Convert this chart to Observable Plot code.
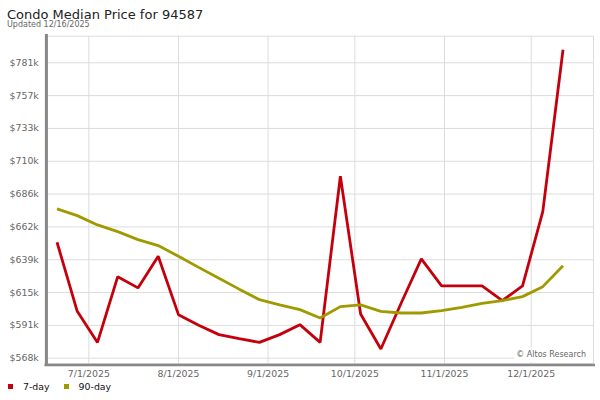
<!DOCTYPE html>
<html>
<head>
<meta charset="utf-8">
<script src="https://cdn.jsdelivr.net/npm/d3@7"></script>
<script src="https://cdn.jsdelivr.net/npm/@observablehq/plot@0.6"></script>
<style>
  html, body { margin: 0; padding: 0; background: #fff; width: 600px; height: 400px; overflow: hidden; position: relative; font-family: "DejaVu Sans", sans-serif; }
  .abs { position: absolute; }
  #title { left: 7px; top: 8.5px; font-size: 13px; line-height: 12px; color: #222; white-space: nowrap; }
  #subtitle { left: 7px; top: 21px; font-size: 8px; line-height: 7px; color: #666; white-space: nowrap; }
  #chart { left: 0; top: 32px; }
  #legend { left: 8px; top: 380px; height: 13px; display: flex; align-items: center; font-size: 9.4px; color: #111; }
  #legend .sw { width: 5px; height: 5px; margin-right: 10px; }
  #legend .item { display: flex; align-items: center; margin-right: 14px; }
  #credit { left: 514px; top: 347px; width: 72px; height: 15px; padding-right: 7px; background: #fff; text-align: right; font-size: 8px; line-height: 15px; color: #666; white-space: nowrap; }
</style>
</head>
<body>
<div id="title" class="abs">Condo Median Price for 94587</div>
<div id="subtitle" class="abs">Updated 12/16/2025</div>
<div id="chart" class="abs"></div>
<div id="credit" class="abs">© Altos Research</div>
<div id="legend" class="abs"></div>
<script>
// ---- data (values in $k) ----
const dates = ["2025-06-20","2025-06-27","2025-07-04","2025-07-11","2025-07-18","2025-07-25",
  "2025-08-01","2025-08-08","2025-08-15","2025-08-22","2025-08-29","2025-09-05","2025-09-12",
  "2025-09-19","2025-09-26","2025-10-03","2025-10-10","2025-10-17","2025-10-24","2025-10-31",
  "2025-11-07","2025-11-14","2025-11-21","2025-11-28","2025-12-05","2025-12-12"];
const sevenDay = [651.6, 601.8, 579.4, 626.8, 618.7, 641.5, 599.4, 591.7, 585.0, 582.1, 579.4, 585.0, 592.2,
  579.4, 699.2, 599.9, 574.6, 607.6, 639.6, 620.1, 620.1, 620.1, 609.5, 620.1, 673.7, 790.4];
const ninetyDay = [675.7, 670.8, 664.1, 659.3, 653.5, 649.2, 641.5, 633.5, 625.6, 617.8, 610.2, 606.5, 603.0,
  597.0, 605.2, 606.4, 601.8, 600.6, 600.6, 602.3, 604.7, 607.6, 609.5, 612.4, 619.6, 634.7];
const seriesNames = ["7-day", "90-day"];
const seriesColors = ["#c4000c", "#a09a00"];
const yTickValues = [568000, 591667, 615333, 639000, 662667, 686333, 710000, 733667, 757333, 781000];
const yTickLabels = ["$568k","$591k","$615k","$639k","$662k","$686k","$710k","$733k","$757k","$781k"];
const xTickDates = ["2025-07-01","2025-08-01","2025-09-01","2025-10-01","2025-11-01","2025-12-01"];
const xTickLabels = ["7/1/2025","8/1/2025","9/1/2025","10/1/2025","11/1/2025","12/1/2025"];
const xDomain = [new Date(Date.UTC(2025, 5, 16, 17)), new Date(Date.UTC(2025, 11, 22, 13))];
const yDomain = [564180, 800180];

// ---- build ----
const rows = [];
[sevenDay, ninetyDay].forEach((vals, s) => {
  dates.forEach((d, i) => rows.push({date: new Date(d), series: seriesNames[s], value: vals[i] * 1000}));
});
const xTicks = xTickDates.map(d => new Date(d));

const chart = Plot.plot({
  width: 600,
  height: 348,
  marginTop: 3.7,
  marginBottom: 17,
  marginLeft: 47,
  marginRight: 7,
  style: {fontFamily: "DejaVu Sans, sans-serif", fontSize: "9.4px", color: "#666", background: "transparent"},
  x: {type: "utc", domain: xDomain, ticks: xTicks, tickSize: 0, tickPadding: 7, label: null,
      tickFormat: d => xTickLabels[xTicks.findIndex(t => +t === +d)]},
  y: {domain: yDomain, ticks: yTickValues, tickSize: 0, tickPadding: 8.7, label: null,
      tickFormat: d => yTickLabels[yTickValues.indexOf(d)]},
  color: {domain: seriesNames, range: seriesColors},
  marks: [
    Plot.ruleX(xTicks, {stroke: "#dcdcdc", strokeWidth: 1}),
    Plot.ruleY(yTickValues, {stroke: "#dcdcdc", strokeWidth: 1}),
    Plot.frame({stroke: "#dcdcdc"}),
    Plot.line(rows, {x: "date", y: "value", z: "series", stroke: "series", strokeWidth: 2.8,
      strokeLinejoin: "miter", strokeLinecap: "butt"}),
    Plot.ruleX([xDomain[0]], {stroke: "#888", strokeWidth: 3, dx: -1.1, insetTop: -1.7, insetBottom: -2.7}),
    Plot.ruleY([yDomain[0]], {stroke: "#888", strokeWidth: 2.5, dy: 1.5, insetLeft: -2.5, insetRight: -2})
  ]
});
document.getElementById("chart").appendChild(chart);

const legend = document.getElementById("legend");
seriesNames.forEach((n, i) => {
  const item = document.createElement("div");
  item.className = "item";
  const sw = document.createElement("div");
  sw.className = "sw";
  sw.style.background = seriesColors[i];
  const t = document.createElement("span");
  t.textContent = n;
  item.appendChild(sw);
  item.appendChild(t);
  legend.appendChild(item);
});
</script>
</body>
</html>
